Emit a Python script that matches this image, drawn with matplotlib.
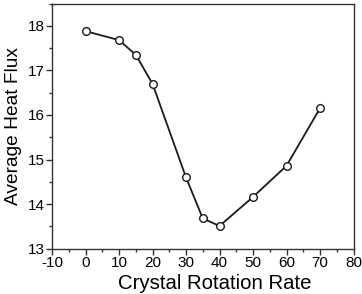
import numpy as np
import matplotlib.pyplot as plt
from matplotlib.ticker import MultipleLocator

plt.rcParams['font.family'] = ['Liberation Sans', 'DejaVu Sans']
plt.rcParams['axes.unicode_minus'] = False

rate = [0, 10, 15, 20, 30, 35, 40, 50, 60, 70]
flux = [17.88, 17.68, 17.35, 16.70, 14.60, 13.68, 13.51, 14.16, 14.86, 16.15]

fig = plt.figure(figsize=(3.62, 2.94), dpi=100)
ax = fig.add_axes([52 / 362, 1 - 248.7 / 294, (353.5 - 52) / 362, (248.7 - 3.5) / 294])

ax.plot(rate, flux, color="#1a1a1a", lw=1.3, marker="o", ms=5.5,
        mfc="white", mec="#1a1a1a", mew=1.0)

ax.set_xlim(-10, 80)
ax.set_ylim(13, 18.5)
ax.xaxis.set_major_locator(MultipleLocator(10))
ax.xaxis.set_minor_locator(MultipleLocator(5))
ax.yaxis.set_major_locator(MultipleLocator(1))
ax.yaxis.set_minor_locator(MultipleLocator(0.5))
ax.tick_params(which="both", direction="out", top=False, right=False,
               labelsize=11, pad=1.0, color="#333333")
ax.tick_params(which="major", length=4, width=1)
ax.tick_params(which="minor", length=2.5, width=1)
for s in ax.spines.values():
    s.set_linewidth(1.0)
    s.set_color("#333333")

ax.set_xlabel("Crystal Rotation Rate", fontsize=14.7)
ax.set_ylabel("Average Heat Flux", fontsize=13.8)
ax.xaxis.set_label_coords(0.539, -0.163, transform=ax.transAxes)
ax.xaxis.label.set_va("baseline")

fig.savefig("out.png", dpi=100)
